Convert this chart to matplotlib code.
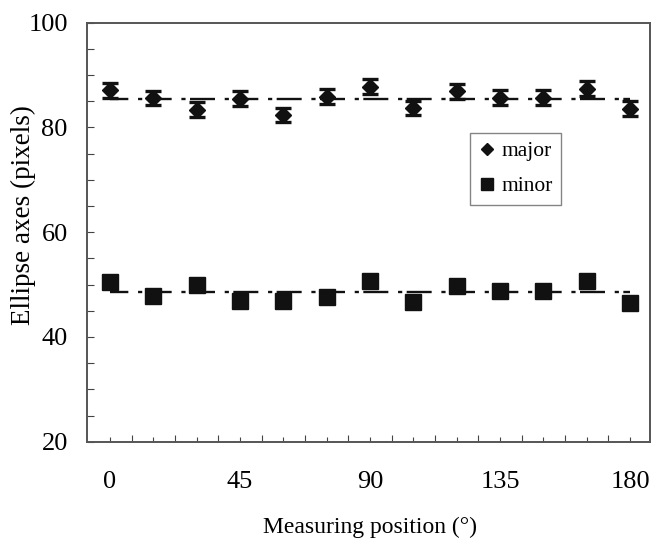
import matplotlib
matplotlib.use('Agg')
import matplotlib.pyplot as plt
from matplotlib.ticker import FixedLocator

plt.rcParams['font.family'] = ['Liberation Serif', 'DejaVu Serif']
plt.rcParams['lines.scale_dashes'] = False

# measuring positions (deg)
position = [0, 15, 30, 45, 60, 75, 90, 105, 120, 135, 150, 165, 180]
major = [87.1, 85.6, 83.4, 85.5, 82.4, 85.9, 87.8, 83.7, 86.9, 85.7, 85.7, 87.4, 83.6]
major_err = [1.4] * 13
minor = [50.4, 47.9, 49.9, 46.9, 46.9, 47.7, 50.7, 46.7, 49.8, 48.8, 48.8, 50.7, 46.5]
major_mean = 85.5
minor_mean = 48.6

xtick_pos = position
xtick_labels = ['0', '', '', '45', '', '', '90', '', '', '135', '', '', '180']
xminor_pos = [7.5, 22.5, 37.5, 52.5, 67.5, 82.5, 97.5, 112.5, 127.5, 142.5, 157.5, 172.5]
ytick_pos = [20, 40, 60, 80, 100]
yminor_pos = [25, 30, 35, 45, 50, 55, 65, 70, 75, 85, 90, 95]

fig = plt.figure(figsize=(6.53, 5.49), dpi=100)
ax = fig.add_axes([0.1337, 0.1954, 0.8612, 0.7633])

dash = (4.8, (18, 7, 3, 3.2))
ax.plot([position[0], position[-1]], [major_mean, major_mean], color='#111111',
        lw=1.7, linestyle=dash, zorder=2)
ax.plot([position[0], position[-1]], [minor_mean, minor_mean], color='#111111',
        lw=1.7, linestyle=dash, zorder=2)

ax.errorbar(position, major, yerr=major_err, fmt='none', ecolor='#111111',
            elinewidth=1.8, capsize=6, capthick=2.4, zorder=3)
ax.plot(position, major, linestyle='none', marker='D', ms=8, color='#111111',
        label='major', zorder=4)
ax.plot(position, minor, linestyle='none', marker='s', ms=11, color='#111111',
        label='minor', zorder=4)

ax.set_xlim(-7.86, 186.8)
ax.set_ylim(20, 100)

ax.xaxis.set_major_locator(FixedLocator(xtick_pos))
ax.set_xticklabels(xtick_labels)
ax.xaxis.set_minor_locator(FixedLocator(xminor_pos))
ax.yaxis.set_major_locator(FixedLocator(ytick_pos))
ax.yaxis.set_minor_locator(FixedLocator(yminor_pos))

ax.tick_params(axis='x', which='major', direction='in', length=3.3, width=0.8,
               color='#444444', labelsize=19, pad=21)
ax.tick_params(axis='x', which='minor', direction='in', length=5.3, width=0.8,
               color='#444444')
ax.tick_params(axis='y', which='both', direction='in', length=5, width=0.8,
               color='#444444', labelsize=19, pad=14)

for s in ax.spines.values():
    s.set_color('#555555')
    s.set_linewidth(1.4)

ax.set_xlabel('Measuring position (°)', fontsize=17)
ax.set_ylabel('Ellipse axes (pixels)', fontsize=19.5)
ax.xaxis.set_label_coords(0.503, -0.178)
ax.yaxis.set_label_coords(-0.092, 0.54)

leg = ax.legend(loc='upper left', bbox_to_anchor=(0.6805, 0.7375),
                borderaxespad=0, fontsize=15.5, frameon=True, fancybox=False,
                handlelength=0.8, handletextpad=0.25, labelspacing=0.7,
                borderpad=0.4, markerscale=0.8)
leg.get_frame().set_edgecolor('#666666')
leg.get_frame().set_linewidth(1.0)

fig.savefig('out.png', dpi=100)
